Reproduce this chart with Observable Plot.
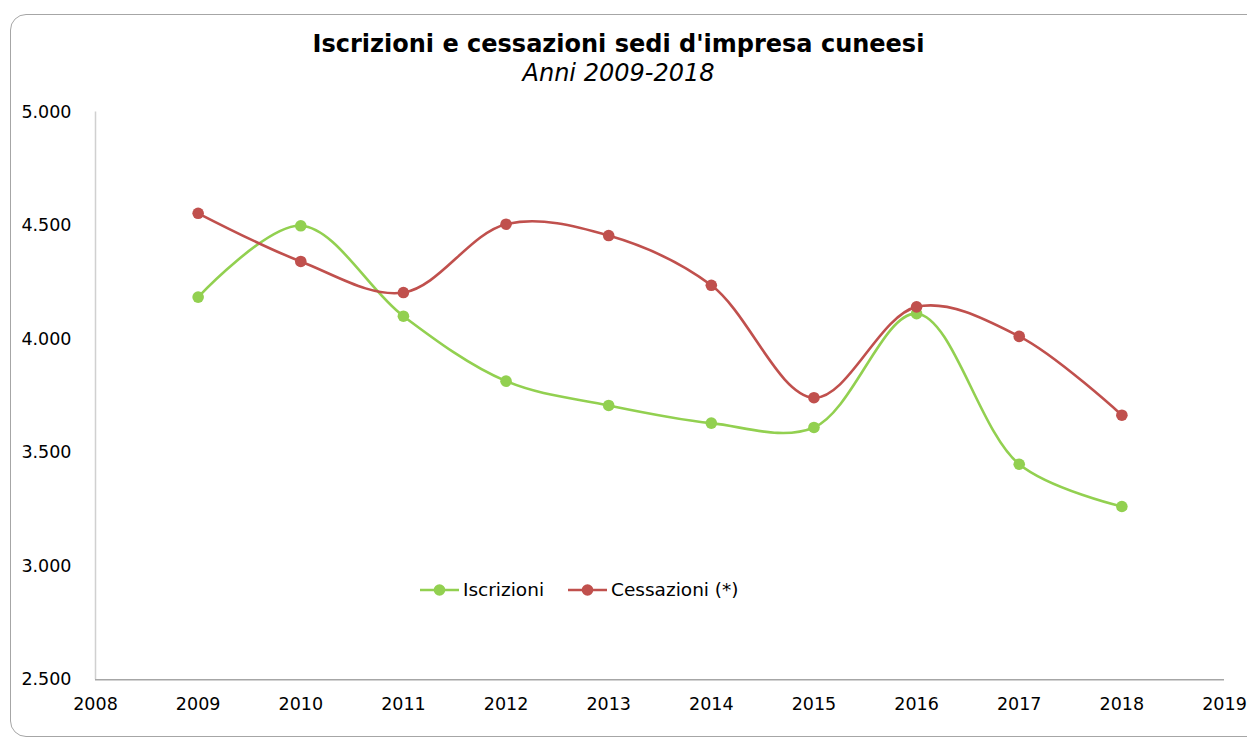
<!DOCTYPE html>
<html>
<head>
<meta charset="utf-8">
<script src="https://cdn.jsdelivr.net/npm/d3@7"></script>
<script src="https://cdn.jsdelivr.net/npm/@observablehq/plot@0.6"></script>
<style>
  html, body { margin: 0; padding: 0; background: #fff; overflow: hidden; }
  #wrap { position: relative; width: 1247px; height: 740px; overflow: hidden; font-family: "DejaVu Sans", Verdana, sans-serif; }
  #frame { position: absolute; left: 10px; top: 14px; width: 1260px; height: 723px; border: 1.5px solid #a6a6a6; border-radius: 16px; box-sizing: border-box; }
  #title { position: absolute; left: 0; width: 1237px; top: 30px; text-align: center; font-weight: bold; font-size: 24px; line-height: 28px; color: #000; }
  #subtitle { position: absolute; left: 0; width: 1237px; top: 59px; text-align: center; font-style: italic; font-size: 24px; line-height: 28px; color: #000; }
  #chart { position: absolute; left: 0; top: 0; }
  #legend { position: absolute; top: 578px; left: 420px; font-size: 18.5px; line-height: 24px; color: #000; display: flex; align-items: center; }
  .item { display: flex; align-items: center; }
  .item svg { margin-right: 4px; }
</style>
</head>
<body>
<div id="wrap">
  <div id="frame"></div>
  <div id="chart"></div>
  <div id="title">Iscrizioni e cessazioni sedi d'impresa cuneesi</div>
  <div id="subtitle">Anni 2009-2018</div>
  <div id="legend"></div>
</div>
<script>
const years = [2009, 2010, 2011, 2012, 2013, 2014, 2015, 2016, 2017, 2018];
const iscrizioni = [4185, 4499, 4101, 3815, 3708, 3630, 3611, 4112, 3449, 3263];
const cessazioni = [4554, 4342, 4205, 4506, 4456, 4237, 3742, 4142, 4012, 3665];
const seriesNames = ["Iscrizioni", "Cessazioni (*)"];
const seriesColors = ["#92d050", "#c0504d"];
const xTicks = [2008, 2009, 2010, 2011, 2012, 2013, 2014, 2015, 2016, 2017, 2018, 2019];
const yTicks = [2500, 3000, 3500, 4000, 4500, 5000];

const data = [];
years.forEach((y, i) => {
  data.push({year: y, value: iscrizioni[i], serie: seriesNames[0]});
  data.push({year: y, value: cessazioni[i], serie: seriesNames[1]});
});

const fmt = v => d3.format(",")(v).replace(/,/g, ".");

const chart = Plot.plot({
  width: 1247,
  height: 740,
  marginLeft: 95,
  marginRight: 23,
  marginTop: 111.5,
  marginBottom: 60.7,
  style: {fontFamily: "'DejaVu Sans', Verdana, sans-serif", fontSize: "17.5px", color: "#000", background: "transparent", overflow: "visible"},
  x: {domain: [2008, 2019], label: null},
  y: {domain: [2500, 5000], label: null},
  color: {domain: seriesNames, range: seriesColors},
  marks: [
    Plot.ruleX([2008], {y1: 2500, y2: 5000, stroke: "#d0d0d0", strokeWidth: 1.5}),
    Plot.ruleY([2500], {x1: 2008, x2: 2019, stroke: "#a6a6a6", strokeWidth: 1.5}),
    Plot.axisX({ticks: xTicks, tickFormat: d => String(d), tickSize: 0, tickPadding: 18, fontSize: 17.5}),
    Plot.axisY({ticks: yTicks, tickFormat: fmt, tickSize: 0, tickPadding: 24, fontSize: 17.5}),
    Plot.line(data, {x: "year", y: "value", z: "serie", stroke: "serie", strokeWidth: 2.6, curve: "catmull-rom"}),
    Plot.dot(data, {x: "year", y: "value", fill: "serie", r: 5.8})
  ]
});
document.getElementById("chart").appendChild(chart);

const legend = document.getElementById("legend");
seriesNames.forEach((name, i) => {
  const item = document.createElement("div");
  item.className = "item";
  item.style.marginRight = i === 0 ? "24px" : "0";
  item.innerHTML = `<svg width="39" height="14"><line x1="0" x2="39" y1="7" y2="7" stroke="${seriesColors[i]}" stroke-width="2.6"/><circle cx="19.5" cy="7" r="5.8" fill="${seriesColors[i]}"/></svg><span>${name}</span>`;
  legend.appendChild(item);
});
</script>
</body>
</html>
